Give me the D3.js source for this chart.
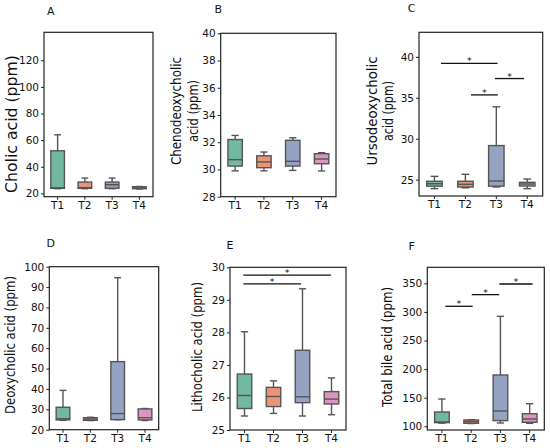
<!DOCTYPE html>
<html>
  <head>
    <meta charset="utf-8" />
    <style>
      body { margin: 0; background: #fff; }
      text { font-family: "DejaVu Sans", sans-serif; fill: #111; }
    </style>
  </head>
  <body>

<svg id="graph"></svg>

<script src="https://d3js.org/d3.v7.min.js"></script>
<script>
  const WIDTH = 550;
  const HEIGHT = 448;

  const GROUPS = ['T1', 'T2', 'T3', 'T4'];
  const COLORS = ['#72b7a1', '#e99575', '#95a3c3', '#db96c0'];

  // each row : [min, q1, median, q3, max]
  const cholic = [[23.5, 23.8, 24.2, 52, 64], [23.5, 23.8, 24.3, 28.5, 31.5], [23.5, 23.8, 26.5, 28.5, 31.5], [23.3, 23.5, 24.2, 25, 25.2]];
  const cheno = [[29.9, 30.25, 30.72, 32.2, 32.5], [29.9, 30.13, 30.55, 31.0, 31.28], [29.93, 30.25, 30.6, 32.14, 32.33], [29.89, 30.42, 30.77, 31.16, 31.23]];
  const urso = [[23.9, 24.2, 24.5, 24.8, 25.4], [24.0, 24.1, 24.43, 24.8, 25.65], [24.1, 24.2, 24.83, 29.16, 33.9], [23.9, 24.22, 24.47, 24.67, 25.07]];
  const deoxy = [[24.6, 24.8, 25.4, 31.0, 39.3], [24.5, 24.6, 25.2, 25.9, 26.1], [24.9, 24.95, 27.9, 53.4, 94.6], [24.5, 24.8, 25.9, 30.2, 30.4]];
  const litho = [[25.43, 25.66, 26.06, 26.72, 28.02], [25.51, 25.72, 26.03, 26.31, 26.51], [25.43, 25.84, 26.02, 27.45, 29.34], [25.47, 25.8, 25.95, 26.18, 26.6]];
  const total = [[105.5, 106.4, 107.5, 125, 147.7], [104.8, 105.2, 108, 111, 111.5], [105.8, 109.9, 126.8, 189.7, 292.3], [105.2, 107, 112.8, 122, 139.5]];

  const cholicTicks = [20, 40, 60, 80, 100, 120];
  const chenoTicks = [28, 30, 32, 34, 36, 38, 40];
  const ursoTicks = [25, 30, 35, 40];
  const deoxyTicks = [20, 30, 40, 50, 60, 70, 80, 90, 100];
  const lithoTicks = [25, 26, 27, 28, 29, 30];
  const totalTicks = [100, 150, 200, 250, 300, 350];

  // significance bars : from / to in group index, y in ppm
  const ursoSig = [{ from: 0.21, to: 2.04, y: 39.2 }, { from: 1.18, to: 2.05, y: 35.35 }, { from: 1.96, to: 2.9, y: 37.35 }];
  const lithoSig = [{ from: -0.04, to: 2.98, y: 29.76 }, { from: -0.04, to: 1.95, y: 29.49 }];
  const totalSig = [{ from: 0.115, to: 1.05, y: 309.8 }, { from: 1.02, to: 1.96, y: 330.2 }, { from: 1.96, to: 3.1, y: 348.8 }];

  const PANELS = [
    { letter: 'A', data: cholic, ticks: cholicTicks, domain: [17.5, 141], sig: [],
      label: ['Cholic acid (ppm)'], box: [44, 32.3, 153, 196.7], lx: [11.5], ly: 124, len: [138], fs: 15, let: [50.7, 14.5] },
    { letter: 'B', data: cheno, ticks: chenoTicks, domain: [28, 40], sig: [],
      label: ['Chenodeoxycholic', 'acid (ppm)'], box: [220.7, 33.3, 336, 196.7], lx: [176, 193], ly: 111, len: [108, 62], fs: 14, let: [218.3, 13] },
    { letter: 'C', data: urso, ticks: ursoTicks, domain: [23, 43], sig: ursoSig,
      label: ['Ursodeoxycholic', 'acid (ppm)'], box: [419, 32.3, 542.7, 196], lx: [372, 388], ly: 111, len: [109, 60], fs: 14, let: [411.7, 12] },
    { letter: 'D', data: deoxy, ticks: deoxyTicks, domain: [20, 100], sig: [],
      label: ['Deoxycholic acid (ppm)'], box: [49.3, 266.7, 158.7, 429.7], lx: [10], ly: 345, len: [138], fs: 14, let: [50.7, 247] },
    { letter: 'E', data: litho, ticks: lithoTicks, domain: [25, 30], sig: lithoSig,
      label: ['Lithocholic acid (ppm)'], box: [230, 267.3, 346, 430], lx: [197], ly: 347, len: [130], fs: 14, let: [230, 248.5] },
    { letter: 'F', data: total, ticks: totalTicks, domain: [93.5, 378], sig: totalSig,
      label: ['Total bile acid (ppm)'], box: [427.3, 267.3, 544.3, 430], lx: [387], ly: 347, len: [120], fs: 14, let: [411.7, 249.5] },
  ];

  const svg = d3.select('#graph').attr('width', WIDTH).attr('height', HEIGHT);
  const LINE = '#555';

  PANELS.forEach(p => {
    const [x0, y0, x1, y1] = p.box;
    const g = svg.append('g');

    const x = d3.scaleBand().domain(GROUPS).range([x0, x1]);
    const xi = d3.scaleLinear().domain([-0.5, GROUPS.length - 0.5]).range([x0, x1]);
    const y = d3.scaleLinear().domain(p.domain).range([y1, y0]);

    const bw = x.bandwidth() * 0.5;
    const cw = bw * 0.5;

    // axes
    g.append('g')
      .attr('transform', `translate(${x0},0)`)
      .call(d3.axisLeft(y).tickValues(p.ticks).tickSize(3).tickPadding(2).tickFormat(d3.format('d')))
      .call(a => a.select('.domain').remove())
      .call(a => a.selectAll('text').attr('font-size', 10.5).attr('font-family', 'DejaVu Sans').attr('fill', '#111'))
      .call(a => a.selectAll('line').attr('stroke', '#222'));

    g.append('g')
      .attr('transform', `translate(0,${y1})`)
      .call(d3.axisBottom(x).tickSize(3).tickPadding(2))
      .call(a => a.select('.domain').remove())
      .call(a => a.selectAll('text').attr('font-size', 10.5).attr('font-family', 'DejaVu Sans').attr('fill', '#111'))
      .call(a => a.selectAll('line').attr('stroke', '#222'));

    // boxes
    const boxes = g.selectAll('.bx')
      .data(p.data)
      .enter()
      .append('g')
      .attr('transform', (d, i) => `translate(${x(GROUPS[i]) + x.bandwidth() / 2},0)`);

    boxes.append('line')
      .attr('y1', d => y(d[0])).attr('y2', d => y(d[1]))
      .attr('stroke', LINE).attr('stroke-width', 1.4);
    boxes.append('line')
      .attr('y1', d => y(d[3])).attr('y2', d => y(d[4]))
      .attr('stroke', LINE).attr('stroke-width', 1.4);
    [0, 4].forEach(k => {
      boxes.append('line')
        .attr('x1', -cw / 2).attr('x2', cw / 2)
        .attr('y1', d => y(d[k])).attr('y2', d => y(d[k]))
        .attr('stroke', LINE).attr('stroke-width', 1.4);
    });
    boxes.append('rect')
      .attr('x', -bw / 2).attr('width', bw)
      .attr('y', d => y(d[3]))
      .attr('height', d => y(d[1]) - y(d[3]))
      .attr('fill', (d, i) => COLORS[i])
      .attr('stroke', LINE).attr('stroke-width', 1.4);
    boxes.append('line')
      .attr('x1', -bw / 2).attr('x2', bw / 2)
      .attr('y1', d => y(d[2])).attr('y2', d => y(d[2]))
      .attr('stroke', LINE).attr('stroke-width', 1.4);

    // significance bars
    g.selectAll('.sig')
      .data(p.sig)
      .enter()
      .append('line')
      .attr('x1', d => xi(d.from)).attr('x2', d => xi(d.to))
      .attr('y1', d => y(d.y)).attr('y2', d => y(d.y))
      .attr('stroke', '#111').attr('stroke-width', 1.3);
    g.selectAll('.star')
      .data(p.sig)
      .enter()
      .append('text')
      .attr('x', d => xi((d.from + d.to) / 2))
      .attr('y', d => y(d.y) + 1)
      .attr('text-anchor', 'middle')
      .attr('font-size', 9.5)
      .text('*');

    // frame
    g.append('rect')
      .attr('x', x0).attr('y', y0)
      .attr('width', x1 - x0).attr('height', y1 - y0)
      .attr('fill', 'none').attr('stroke', '#222').attr('stroke-width', 1.2);

    // y label
    p.label.forEach((t, k) => {
      g.append('text')
        .attr('transform', `translate(${p.lx[k]},${p.ly}) rotate(-90)`)
        .attr('text-anchor', 'middle')
        .attr('dominant-baseline', 'central')
        .attr('font-family', '"Liberation Sans", Arial, sans-serif')
        .attr('font-size', p.fs)
        .attr('textLength', p.len[k])
        .attr('lengthAdjust', 'spacingAndGlyphs')
        .text(t);
    });

    // panel letter
    g.append('text')
      .attr('x', p.let[0]).attr('y', p.let[1])
      .attr('text-anchor', 'middle')
      .attr('font-family', '"Liberation Sans", Arial, sans-serif')
      .attr('font-size', 11)
      .text(p.letter);
  });
</script>
  </body>
</html>
